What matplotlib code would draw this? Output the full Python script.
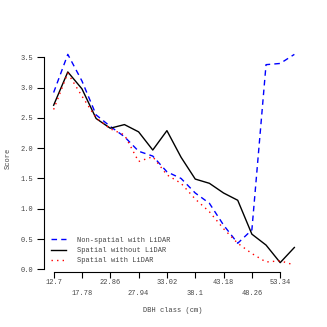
import numpy as np
import matplotlib
matplotlib.use("Agg")
import matplotlib.pyplot as plt

# DBH class midpoints (cm), every 2.54
dbh = [12.7, 15.24, 17.78, 20.32, 22.86, 25.4, 27.94, 30.48, 33.02,
       35.56, 38.1, 40.64, 43.18, 45.72, 48.26, 50.8, 53.34, 55.88]

nonspatial_lidar = [2.92, 3.55, 3.11, 2.55, 2.36, 2.19, 1.95, 1.87, 1.61,
                    1.50, 1.26, 1.09, 0.73, 0.43, 0.65, 3.38, 3.40, 3.55]
spatial_no_lidar = [2.71, 3.26, 2.98, 2.49, 2.33, 2.39, 2.27, 1.97, 2.29,
                    1.85, 1.49, 1.42, 1.26, 1.14, 0.58, 0.40, 0.11, 0.36]
spatial_lidar = [2.64, 3.24, 2.86, 2.50, 2.32, 2.22, 1.78, 1.86, 1.56,
                 1.42, 1.16, 0.95, 0.67, 0.43, 0.26, 0.12, 0.14, 0.07]

major_x = [12.7, 22.86, 33.02, 43.18, 53.34]
minor_x = [17.78, 27.94, 38.1, 48.26]
y_ticks = [0.0, 0.5, 1.0, 1.5, 2.0, 2.5, 3.0, 3.5]

plt.rcParams['font.family'] = ['Liberation Mono', 'DejaVu Sans Mono']
plt.rcParams['font.size'] = 5.0
txt = '#444444'

fig = plt.figure(figsize=(3.27, 3.27), dpi=100)
ax = fig.add_axes([44/327, 1 - 272/327, 260/327, (272 - 46.5)/327])

ax.plot(dbh, nonspatial_lidar, color='blue', ls=(0, (4, 3)), lw=1.0,
        label='Non-spatial with LiDAR')
ax.plot(dbh, spatial_no_lidar, color='black', lw=1.0,
        label='Spatial without LiDAR')
ax.plot(dbh, spatial_lidar, color='red', ls=(0, (1, 3)), lw=1.0,
        label='Spatial with LiDAR')

ax.set_xlim(10.97, 57.61)
ax.set_ylim(-0.045, 3.68)

for s in ['top', 'right']:
    ax.spines[s].set_visible(False)
ax.spines['bottom'].set_bounds(12.7, 53.34)
ax.spines['left'].set_bounds(0, 3.5)
ax.spines['bottom'].set_linewidth(0.8)
ax.spines['left'].set_linewidth(0.8)

ax.set_xticks(major_x)
ax.set_xticklabels([str(v) for v in major_x], color=txt)
ax.set_xticks(minor_x, minor=True)
ax.set_xticklabels([str(v) for v in minor_x], minor=True, color=txt)
ax.tick_params(axis='x', which='major', length=4, width=0.8, pad=1.2)
ax.tick_params(axis='x', which='minor', length=4, width=0.8, pad=9)

ax.set_yticks(y_ticks)
ax.set_yticklabels(['%.1f' % v for v in y_ticks], color=txt)
ax.tick_params(axis='y', length=5, width=0.8, pad=3)

fig.text(173/327, 1 - 310.7/327, 'DBH class (cm)', ha='center', va='center', color=txt)
fig.text(8/327, 1 - 158/327, 'Score', ha='center', va='center', rotation=90, color=txt)

leg = ax.legend(loc='lower left', bbox_to_anchor=(0.01, 0.015), frameon=False,
                handlelength=2.2, handletextpad=1.6, labelspacing=0.5,
                borderaxespad=0.2)
for t in leg.get_texts():
    t.set_color(txt)

fig.savefig('out.png', dpi=100)
